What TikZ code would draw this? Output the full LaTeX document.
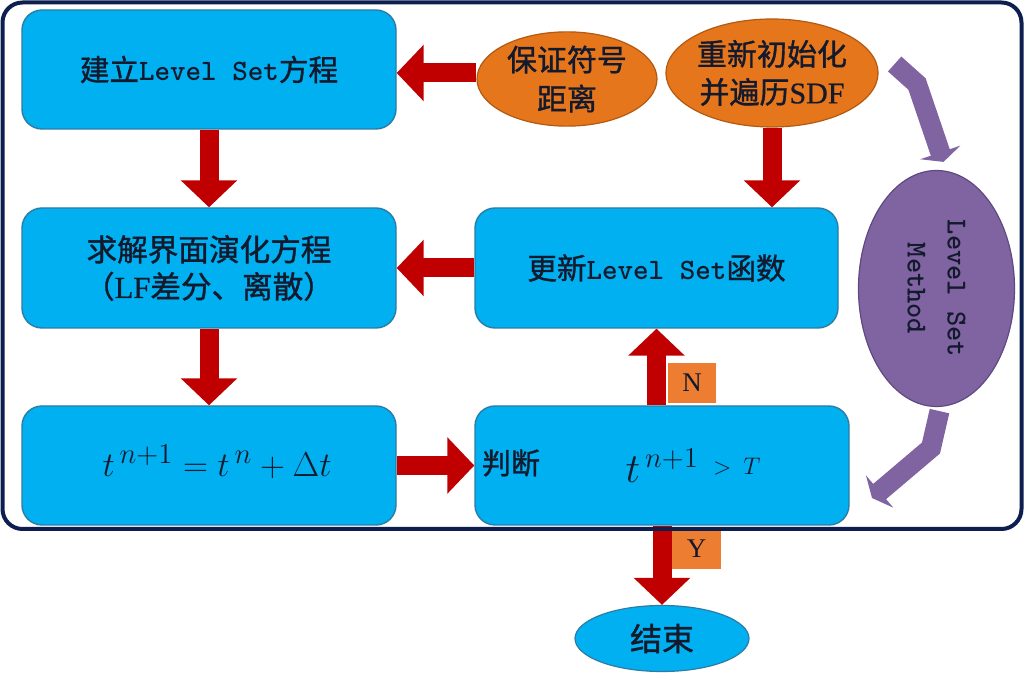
\documentclass[tikz,border=0pt]{standalone}
\usepackage{fontspec}
\usetikzlibrary{shapes.geometric,arrows.meta,calc}
\newfontfamily\cjk[FakeBold=1.2]{Noto Sans CJK SC}
\newfontfamily\serifb[FakeBold=0.6]{Liberation Serif}
\newfontfamily\serifr{Liberation Serif}
\newfontfamily\lvs{lmmonolt10-bold.otf}
\definecolor{boxfill}{HTML}{00B0F0}
\definecolor{boxline}{HTML}{2B7DA6}
\definecolor{ora}{HTML}{E6761B}
\definecolor{oraline}{HTML}{B35A12}
\definecolor{lab}{HTML}{ED7D31}
\definecolor{ared}{HTML}{C00000}
\definecolor{purp}{HTML}{8064A2}
\definecolor{purpline}{HTML}{5E4A80}
\definecolor{framec}{HTML}{0D1F4F}
\definecolor{txt}{HTML}{141A2E}
\begin{document}
\begin{tikzpicture}[x=0.5pt,y=-0.5pt,
  box/.style={draw=boxline, line width=0.7pt, fill=boxfill, rounded corners=10pt,
    minimum width=187pt, minimum height=59.5pt, inner sep=0pt, text=txt, align=center},
  oval/.style={ellipse, draw=oraline, line width=0.6pt, fill=ora, inner sep=0pt,
    text=txt, align=center},
  pell/.style={ellipse, draw=purpline, line width=0.6pt, fill=purp, inner sep=0pt},
  endell/.style={ellipse, draw=boxline, line width=0.6pt, fill=boxfill, inner sep=0pt, text=txt},
  lab/.style={fill=lab, inner sep=0pt, text=txt, font=\serifr\fontsize{13.5}{15}\selectfont},
  plain/.style={inner sep=0pt, text=txt, align=center},
  rarrow/.style={draw=ared, line width=9.5pt, -{Triangle[length=13.5pt,width=27.5pt]}},
  parrow/.style={draw=purp, line width=10pt, line join=miter, -{Triangle[length=5pt,width=21pt]}}
]
\useasboundingbox (0,0) rectangle (1024,673);
\fill[white] (0,0) rectangle (1024,673);

% boxes
\node[box, font=\fontsize{14.8}{18}\selectfont] (b1) at (209,69.5)
  {{\cjk 建立}{\lvs Level Set}{\cjk 方程}};
\node[box, minimum height=60pt, font=\fontsize{15.3}{18.5}\selectfont] (b2) at (209,268)
  {{\cjk 求解界面演化方程}\\{\cjk （}{\serifb LF}{\cjk 差分、离散）}};
\node[box] (b3) at (209,465.5) {};
\node[box, minimum width=181.5pt, minimum height=60pt, font=\fontsize{14.8}{18}\selectfont] (b4) at (656.5,268)
  {{\cjk 更新}{\lvs Level Set}{\cjk 函数}};
\node[box] (b5) at (662,465.5) {};

% texts inside b3 and b5
\node[plain, font=\fontsize{19}{22}\selectfont] (f1) at (217,462) {$t^{\,n+1}=t^{\,n}+\Delta t$};
\node[plain, font=\cjk\fontsize{14.5}{18}\selectfont] (jd) at (511,463) {判断};
\node[plain] (f2) at (693,466)
  {{\fontsize{22}{24}\selectfont$t^{\,n+1}$}\hspace{7pt}\raisebox{4pt}{\fontsize{12}{14}\selectfont$>$\hspace{6pt}$T$}};

% ellipses
\node[oval, minimum width=90pt, minimum height=47pt, font=\cjk\fontsize{15}{19.5}\selectfont] (e1) at (567,79)
  {保证符号\\距离};
\node[oval, minimum width=97pt, minimum height=54pt, font=\fontsize{15}{19}\selectfont] (e2) at (772,73)
  {{\cjk 重新初始化}\\{\cjk 并遍历}{\serifb SDF}};
\node[pell, minimum width=78pt, minimum height=118pt] (ls) at (936.5,288.5) {};
\node[plain, rotate=-90, font=\lvs\fontsize{14.5}{20}\selectfont] (lst) at (ls.center) {Level Set\\Method};
\node[endell, minimum width=87pt, minimum height=33pt, font=\cjk\fontsize{16}{18}\selectfont] (end) at (662,638.5) {结束};

% labels
\node[lab, minimum width=24pt, minimum height=20pt] (nl) at (692,383) {N};
\node[lab, minimum width=24.5pt, minimum height=20pt] (yl) at (696.5,549) {Y};

% red arrows
\coordinate (e1a) at ($(e1.west)+(0,-6)$);
\draw[rarrow] (e1a) -- (e1a -| b1.east);
\draw[rarrow] (b1.south) -- (b2.north);
\draw[rarrow] (b4.west) -- (b4.west -| b2.east);
\draw[rarrow] (b2.south) -- (b3.north);
\draw[rarrow] (b3.east) -- (b3.east -| b5.west);
\draw[rarrow] (e2.south) -- (e2.south |- b4.north);
\draw[rarrow] (b5.north -| b4.south) -- (b4.south);
\draw[rarrow] (b5.south) -- (end.north);

% purple arrows
\coordinate (pb1) at (917,84);
\coordinate (pb2) at (931,448);
\coordinate (pe2) at (872,498);
\draw[parrow] ($(e2.east)+(16,-9)$) -- (pb1) -- ($(ls.north)+(7,-8)$);
\draw[parrow] ($(ls.south)+(3,4)$) -- (pb2) -- (pe2);

% frame
\draw[framec, line width=2pt, rounded corners=10pt] (2.5,2.5) rectangle (1021.5,529);
\end{tikzpicture}
\end{document}
